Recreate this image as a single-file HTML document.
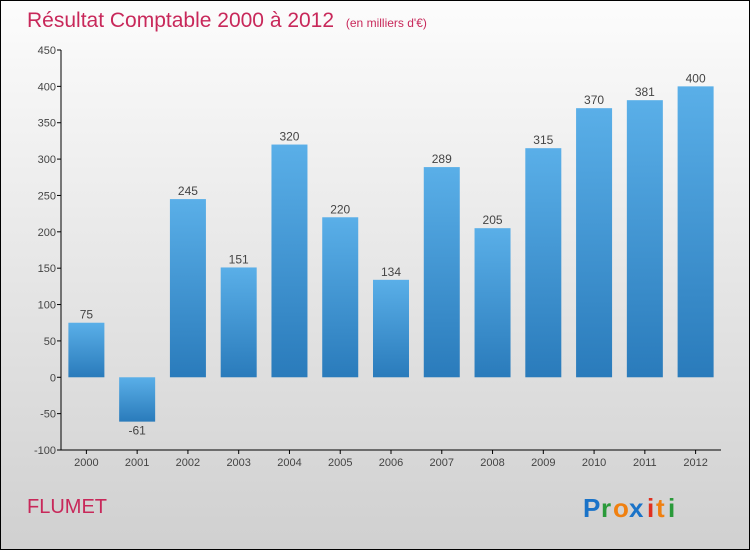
<!DOCTYPE html>
<html><head><meta charset="utf-8"><style>
body{margin:0}
#c{position:relative;width:748px;height:548px;border:1px solid #000;background:linear-gradient(#fcfcfc,#d0d0d0);font-family:"Liberation Sans",sans-serif;overflow:hidden}
</style></head><body>
<div id="c">
<svg id="s" width="748" height="548" xmlns="http://www.w3.org/2000/svg">
<defs><linearGradient id="g" x1="0" y1="0" x2="0" y2="1"><stop offset="0" stop-color="#5aafe8"/><stop offset="1" stop-color="#2a7bbb"/></linearGradient></defs>
<text x="26" y="26" font-size="21" fill="#c8285a">Résultat Comptable 2000 à 2012 <tspan font-size="12" dx="6">(en milliers d'€)</tspan></text>
<text x="26" y="512" font-size="20" fill="#c8285a">FLUMET</text>
<g font-size="26" font-weight="bold">
<text x="582" y="516" fill="#1a73c8">P</text><text x="600" y="516" fill="#2a9a3a">r</text><text x="612" y="516" fill="#f08010">o</text><text x="628" y="516" fill="#1a73c8">x</text><text x="646" y="516" fill="#e03020">i</text><text x="655" y="516" fill="#f08010">t</text><text x="667" y="516" fill="#2a9a3a">i</text>
</g>
<g id="ax"></g><g id="bars"></g>
</svg>
</div>
<script>
const years=["2000","2001","2002","2003","2004","2005","2006","2007","2008","2009","2010","2011","2012"];
const values=[75,-61,245,151,320,220,134,289,205,315,370,381,400];
const yTicks=[-100,-50,0,50,100,150,200,250,300,350,400,450];
const NS="http://www.w3.org/2000/svg";
const x0=60,x1=720,yTop=49,yBot=449,vMin=-100,vMax=450;
const y=v=>yBot-(v-vMin)/(vMax-vMin)*(yBot-yTop);
const step=(x1-x0)/years.length;
const xc=i=>x0+step*(i+0.5);
function mk(t,a,p){const e=document.createElementNS(NS,t);for(const k in a)e.setAttribute(k,a[k]);p.appendChild(e);return e;}
const ax=document.getElementById('ax'),bars=document.getElementById('bars');
const yl=mk('line',{x1:x0,y1:yTop,x2:x0,y2:yBot,stroke:'#000'},ax);


const xl=mk('line',{x1:x0,y1:yBot,x2:x1,y2:yBot,stroke:'#000'},ax);


yTicks.forEach(v=>{
 mk('line',{x1:x0-4,y1:y(v),x2:x0,y2:y(v),stroke:'#000'},ax);
 const t=mk('text',{x:x0-5,y:y(v)+4,'font-size':11,fill:'#444','text-anchor':'end'},ax);t.textContent=v;
 
 
});
years.forEach((yr,i)=>{
 mk('line',{x1:xc(i),y1:yBot,x2:xc(i),y2:yBot+4,stroke:'#000'},ax);
 const t=mk('text',{x:xc(i),y:yBot+16,'font-size':11,fill:'#444','text-anchor':'middle'},ax);t.textContent=yr;
 
 
 const v=values[i],top=Math.min(y(v),y(0)),h=Math.abs(y(v)-y(0));
 const r=mk('rect',{x:xc(i)-18,y:top,width:36,height:h,fill:'url(#g)'},bars);
 
 
 const l=mk('text',{x:xc(i),y:v>=0?y(v)-4:y(v)+13,'font-size':12,fill:'#444','text-anchor':'middle'},bars);l.textContent=v;
 
 
});
</script>
</body></html>
